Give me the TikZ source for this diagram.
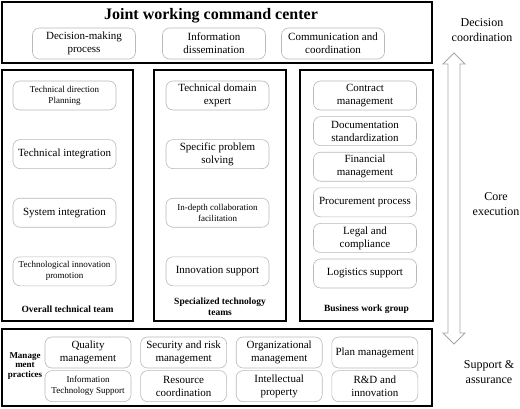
\documentclass[tikz,border=0pt]{standalone}
\usepackage{fontspec}
\setmainfont{Liberation Serif}
\usetikzlibrary{positioning}
\begin{document}
\begin{tikzpicture}[x=1pt, y=-1pt, node distance=29pt]
\tikzstyle{group} = [rectangle, draw, line width=1.1pt, inner sep=0pt]
\tikzstyle{item} = [rectangle, rounded corners=7pt, draw=gray!55, line width=0.6pt, minimum width=103pt, minimum height=29pt, inner sep=1pt, align=center, font=\fontsize{11}{13}\selectfont]
\tikzstyle{cell} = [item, minimum width=86pt, minimum height=31pt]
\tikzstyle{small} = [font=\fontsize{9}{11}\selectfont]
\tikzstyle{grouplabel} = [align=center, inner sep=0pt, font=\fontsize{9.5}{11}\selectfont\bfseries]
\tikzstyle{side} = [align=center, font=\fontsize{12}{15}\selectfont]

\useasboundingbox (0,0) rectangle (520,408);

\node [group, minimum width=430pt, minimum height=61pt] (center) at (217,32.5) {};
\node [group, minimum width=131pt, minimum height=251pt] (tech) at (67.5,195.5) {};
\node [group, minimum width=132pt, minimum height=251pt] (spec) at (220,195.5) {};
\node [group, minimum width=133pt, minimum height=251pt] (biz) at (366.5,195.5) {};
\node [group, minimum width=430pt, minimum height=77pt] (mgmt) at (217,367.5) {};

\node [font=\fontsize{16}{18}\selectfont\bfseries] (title) at (211,16) {Joint working command center};
\node [item, minimum height=31pt] (decide) at (84,43.5) {Decision-making\\process};
\node [item, minimum height=31pt] (inform) at (214,43.5) {Information\\dissemination};
\node [item, minimum height=31pt] (comm) at (333,43.5) {Communication and\\coordination};

\node [item, small] (plan) at (64.5,95.5) {Technical direction\\Planning};
\node [item, below=of plan] (tint) {Technical integration};
\node [item, below=of tint] (sint) {System integration};
\node [item, small, below=of sint] (innov) {Technological innovation\\promotion};
\node [grouplabel] (techlabel) at (67.5,309) {Overall technical team};

\node [item] (expert) at (217.5,95.5) {Technical domain\\expert};
\node [item, below=of expert] (solve) {Specific problem\\solving};
\node [item, small, below=of solve] (collab) {In-depth collaboration\\facilitation};
\node [item, below=of collab] (support) {Innovation support};
\node [grouplabel] (speclabel) at (220,307) {Specialized technology\\teams};

\node [item] (contract) at (365,95.5) {Contract\\management};
\node [item, below=6pt of contract] (docs) {Documentation\\standardization};
\node [item, below=6pt of docs] (finance) {Financial\\management};
\node [item, below=6pt of finance] (procure) {Procurement process};
\node [item, below=6pt of procure] (legal) {Legal and\\compliance};
\node [item, below=6pt of legal] (logi) {Logistics support};
\node [grouplabel] (bizlabel) at (366.5,309) {Business work group};

\node [grouplabel, font=\fontsize{9}{9.5}\selectfont\bfseries] (mgmtlabel) at (25,366) {Manage\\ment\\practices};
\node [cell] (quality) at (88,352.5) {Quality\\management};
\node [cell, right=9pt of quality] (risk) {Security and risk\\management};
\node [cell, right=9pt of risk] (org) {Organizational\\management};
\node [cell, right=9pt of org] (planm) {Plan management};
\node [cell, small, below=2pt of quality] (itsup) {Information\\Technology Support};
\node [cell, below=2pt of risk] (resource) {Resource\\coordination};
\node [cell, below=2pt of org] (ip) {Intellectual\\property};
\node [cell, below=2pt of planm] (rd) {R\&D and\\innovation};

\node [side] (decisionside) at (482,30) {Decision\\coordination};
\node [side] (coreside) at (496,204) {Core\\execution};
\node [side] (supportside) at (489,372) {Support \&\\assurance};

\draw [gray!70, line width=0.8pt] (448,333) -- (448,64) -- (443,64) -- (454,53) -- (465,64) -- (460,64)
    -- (460,333) -- (465,333) -- (454,344) -- (443,333) -- cycle;
\end{tikzpicture}
\end{document}
